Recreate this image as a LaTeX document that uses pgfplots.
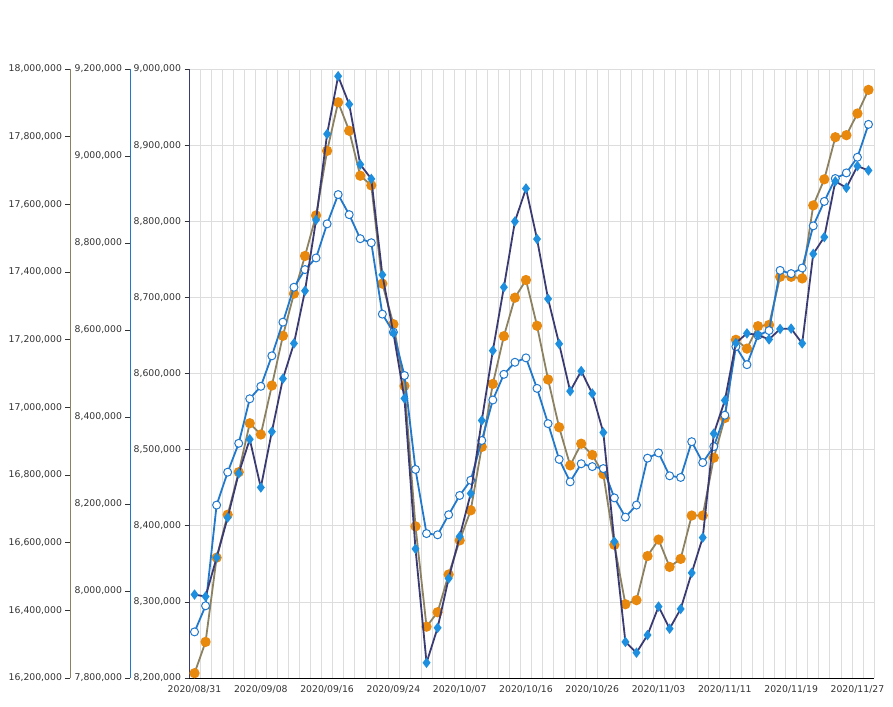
\documentclass[border=0pt]{standalone}
\usepackage{fontspec}
\setmainfont{DejaVu Sans}
\usepackage{pgfplots}
\usepackage{pgfplotstable}
\pgfplotsset{compat=1.18}

\definecolor{navyline}{HTML}{3B3B74}
\definecolor{diamondblue}{HTML}{1E8FDE}
\definecolor{oliveline}{HTML}{8C8160}
\definecolor{orangedot}{HTML}{E8890E}
\definecolor{blueline}{HTML}{2279CB}
\definecolor{gridgray}{HTML}{DDDDDD}
\definecolor{labelgray}{HTML}{333333}

% idx = trading day, from 2020/08/31 to 2020/11/30
\pgfplotstableread{
idx inner middle outer
0 8309600 7906000 16214200
1 8307000 7966000 16306700
2 8358100 8197500 16555700
3 8410800 8273100 16682600
4 8468800 8339500 16808300
5 8513600 8441900 16952900
6 8450300 8470500 16919700
7 8523600 8540600 17064400
8 8593200 8618000 17211400
9 8639500 8698300 17336000
10 8708600 8738900 17447400
11 8801800 8765600 17567200
12 8914600 8844000 17758100
13 8990500 8911300 17901600
14 8953600 8865200 17817400
15 8874600 8809900 17684600
16 8855600 8800600 17656100
17 8729600 8636500 17365600
18 8653200 8595000 17245800
19 8567300 8495400 17063200
20 8369700 8279500 16648200
21 8220000 8132000 16351700
22 8265900 8129200 16394400
23 8330700 8175300 16505900
24 8386000 8219600 16606700
25 8442400 8254600 16695600
26 8538300 8346000 16883000
27 8630000 8439100 17069100
28 8713300 8498100 17210300
29 8799700 8525800 17324100
30 8843000 8535900 17376300
31 8776600 8465800 17241100
32 8698000 8384700 17082200
33 8639000 8302600 16941100
34 8576800 8251000 16828400
35 8603200 8292500 16892500
36 8573700 8286000 16859300
37 8522500 8281400 16802300
38 8379200 8214100 16593600
39 8247400 8169800 16418100
40 8233200 8197500 16430000
41 8256400 8305400 16560400
42 8293800 8317400 16609100
43 8264800 8264800 16528400
44 8290700 8261100 16552100
45 8338100 8343200 16680200
46 8384500 8295200 16680200
47 8521000 8332100 16851000
48 8564700 8404100 16968400
49 8640100 8561800 17199600
50 8652700 8520300 17173500
51 8650600 8587600 17239900
52 8644800 8598700 17243500
53 8658500 8737000 17385800
54 8659000 8729600 17385800
55 8639500 8742500 17381000
56 8757100 8839400 17596800
57 8779200 8895600 17673900
58 8852400 8948200 17798400
59 8844000 8961100 17804300
60 8872500 8997100 17868400
61 8866700 9072700 17938300
}\datatable

\pgfplotsset{
  base/.style={
    scale only axis, width=685pt, height=609pt,
    at={(189pt,28pt)}, anchor=south west,
    xmin=-0.5, xmax=61.5,
    clip=false,
    scaled y ticks=false,
    tick align=outside,
    major tick length=4.5pt,
    tick style={draw=labelgray, line width=0.6pt},
    ticklabel style={font=\fontsize{9.3}{11}\selectfont, text=labelgray},
    y tick label style={/pgf/number format/fixed,
      /pgf/number format/1000 sep={,},
      /pgf/number format/assume math mode=true},
    axis line style={-},
  },
}

\begin{document}
\begin{tikzpicture}
\useasboundingbox (0,0) rectangle (893pt,706pt);

% grid, x axis and inner y axis
\begin{axis}[base,
  ymin=8200000, ymax=9000000, ytick distance=100000,
  axis x line*=bottom, axis y line*=left,
  x axis line style={draw=black, line width=0.9pt},
  y axis line style={draw=navyline, line width=0.9pt},
  xtick={0,6,...,60},
  xticklabels={2020/08/31,2020/09/08,2020/09/16,2020/09/24,2020/10/07,2020/10/16,2020/10/26,2020/11/03,2020/11/11,2020/11/19,2020/11/27},
  x tick style={draw=none},
  minor xtick={-0.5,0.5,...,61.5},
  minor tick length=0pt,
  xminorgrids=true, ymajorgrids=true,
  grid style={draw=gridgray, line width=0.7pt},
  minor grid style={draw=gridgray, line width=0.7pt},
]
\addplot[draw=none, forget plot] table[x=idx, y=inner] {\datatable};
\end{axis}

% outer axis, orange dots
\begin{axis}[base,
  ymin=16200000, ymax=18000000, ytick distance=200000,
  axis x line=none, axis y line*=left,
  y axis line style={draw=oliveline, line width=0.9pt, xshift=-119pt},
  ytick style={xshift=-119pt},
  yticklabel style={xshift=-119pt},
]
\addplot[color=oliveline, line width=1.8pt, mark=*, mark size=4.2pt,
  mark options={fill=orangedot, draw=orangedot}]
  table[x=idx, y=outer] {\datatable};
\end{axis}

% middle axis, white circles
\begin{axis}[base,
  ymin=7800000, ymax=9200000, ytick distance=200000,
  axis x line=none, axis y line*=left,
  y axis line style={draw=blueline, line width=0.9pt, xshift=-59pt},
  ytick style={xshift=-59pt},
  yticklabel style={xshift=-59pt},
]
\addplot[color=blueline, line width=1.8pt, mark=*, mark size=4pt,
  mark options={fill=white, draw=blueline, line width=1pt}]
  table[x=idx, y=middle] {\datatable};
\end{axis}

% inner series, navy line with diamonds
\begin{axis}[base,
  ymin=8200000, ymax=9000000,
  hide axis,
]
\addplot[color=navyline, line width=1.8pt, mark=diamond*, mark size=3.8pt,
  mark options={fill=diamondblue, draw=diamondblue}]
  table[x=idx, y=inner] {\datatable};
\end{axis}
\end{tikzpicture}
\end{document}
